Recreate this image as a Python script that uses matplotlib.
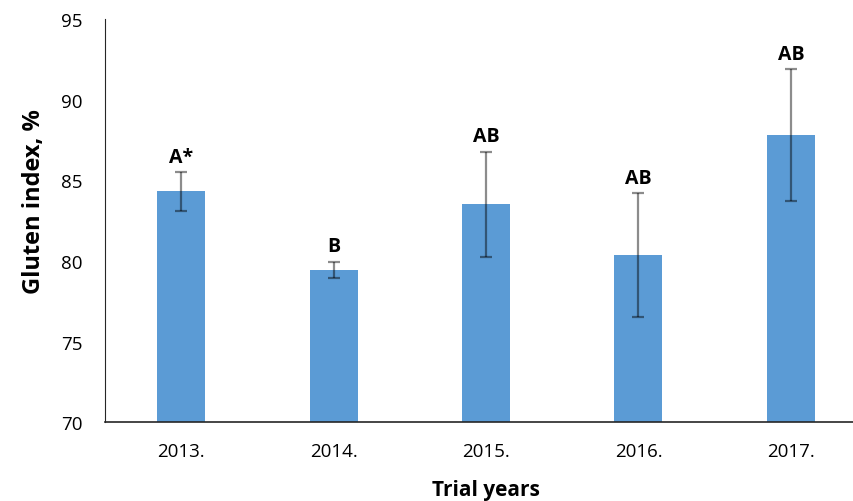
#!/usr/bin/env python3

"""Gluten index by trial year."""
from matplotlib import pyplot as plt

plt.rcParams['font.family'] = ['Open Sans', 'DejaVu Sans']

YEARS = ['2013.', '2014.', '2015.', '2016.', '2017.']
GLUTEN = [84.3, 79.45, 83.5, 80.35, 87.8]
ERRORS = [1.2, 0.5, 3.25, 3.85, 4.07]
LETTERS = ['A*', 'B', 'AB', 'AB', 'AB']


def plot_gluten():
    """."""
    fig = plt.figure(figsize=(8.54, 5.02), dpi=100)
    ax = fig.add_axes([0.123, 0.157, 0.8923, 0.8034])

    xpos = range(len(YEARS))
    ax.bar(xpos, GLUTEN, width=0.315, color='#5b9bd5', zorder=2)
    ax.errorbar(xpos, GLUTEN, yerr=ERRORS, fmt='none', ecolor='black',
                alpha=0.45, elinewidth=1.6, capsize=4, capthick=1.6, zorder=3)

    for x, val, err, txt in zip(xpos, GLUTEN, ERRORS, LETTERS):
        ax.annotate(txt, (x, val + err), xytext=(0, 4),
                    textcoords='offset points', ha='center', va='bottom',
                    fontsize=14, fontweight='bold')

    ax.set_xlim(-0.5, 4.5)
    ax.set_ylim(70, 95)
    ax.set_yticks([70, 75, 80, 85, 90, 95])
    ax.set_xticks(list(xpos))
    ax.set_xticklabels(YEARS)
    ax.tick_params(length=0, labelsize=13.5, colors='black')
    ax.tick_params(axis='x', pad=14)
    ax.tick_params(axis='y', pad=16)

    for side in ('top', 'right'):
        ax.spines[side].set_visible(False)
    ax.spines['left'].set_color('#262626')
    ax.spines['bottom'].set_color('#262626')
    ax.spines['bottom'].set_linewidth(1.2)

    ax.set_xlabel('Trial years', fontsize=15, fontweight='bold', labelpad=14)
    ax.set_ylabel('Gluten index, %', fontsize=17, fontweight='bold')
    ax.yaxis.set_label_coords(-0.077, 0.55)

    fig.savefig('out.png', dpi=100)


plot_gluten()
